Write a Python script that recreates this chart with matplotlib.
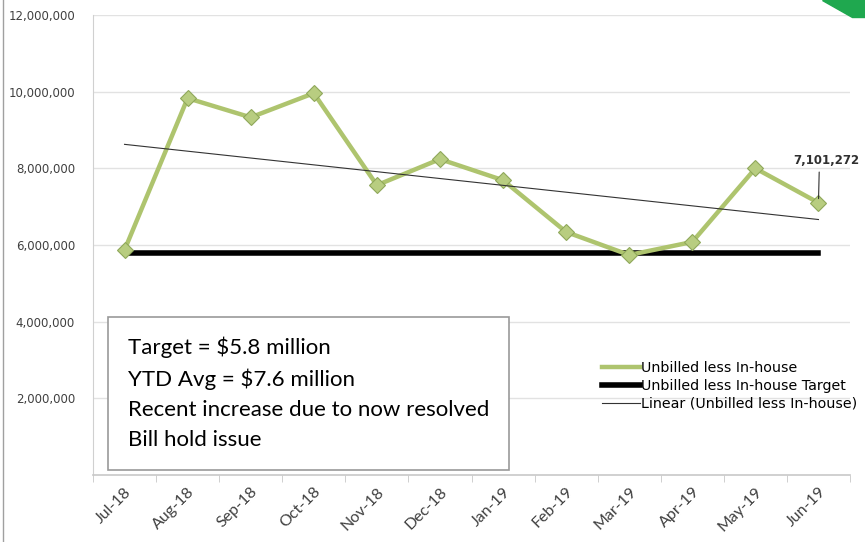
import numpy as np
import matplotlib.pyplot as plt
from matplotlib.patches import Polygon
from matplotlib.lines import Line2D

months = ['Jul-18', 'Aug-18', 'Sep-18', 'Oct-18', 'Nov-18', 'Dec-18',
          'Jan-19', 'Feb-19', 'Mar-19', 'Apr-19', 'May-19', 'Jun-19']
unbilled = [5870000, 9830000, 9330000, 9960000, 7560000, 8240000,
            7690000, 6340000, 5740000, 6080000, 8000000, 7101272]
target = [5800000] * 12
yticks = [2000000, 4000000, 6000000, 8000000, 10000000, 12000000]
note = "Target = $5.8 million\nYTD Avg = $7.6 million\nRecent increase due to now resolved\nBill hold issue"

x = np.arange(len(months))
fit = np.polyfit(x, unbilled, 1)
trend = np.polyval(fit, x)

fig = plt.figure(figsize=(8.65, 5.42), dpi=100)
ax = fig.add_axes([93 / 865, 1 - 475 / 542, (850 - 93) / 865, (475 - 15) / 542])

ax.plot(x, unbilled, color='#aec46e', lw=3.2, marker='D', ms=8,
        mfc='#b8cd80', mec='#8fa85a', mew=0.8, zorder=3,
        label='Unbilled less In-house')
ax.plot(x, target, color='black', lw=4, zorder=2,
        label='Unbilled less In-house Target')
ax.plot(x, trend, color='#333333', lw=0.8, zorder=4,
        label='Linear (Unbilled less In-house)')

ax.set_xlim(-0.5, 11.5)
ax.set_ylim(0, 12000000)
ax.set_yticks(yticks)
ax.set_yticklabels([f'{v:,}' for v in yticks], fontsize=8.5, color='#404040')
ax.set_xticks(x)
ax.set_xticklabels(months, rotation=45, ha='right', rotation_mode='anchor',
                   fontsize=11.5, color='#404040', family='Lato')
ax.tick_params(axis='y', length=0, pad=13)
ax.set_xticks(np.arange(-0.5, 12, 1), minor=True)
ax.tick_params(axis='x', which='major', length=0, pad=7)
ax.tick_params(axis='x', which='minor', length=5, color='#c8c8c8')
ax.grid(axis='y', color='#e2e2e2', lw=1)
for s in ['top', 'right']:
    ax.spines[s].set_visible(False)
ax.spines['left'].set_color('#d0d0d0')
ax.spines['bottom'].set_color('#c8c8c8')
ax.spines['bottom'].set_linewidth(1.2)

ax.annotate(f'{unbilled[-1]:,}', xy=(x[-1], unbilled[-1]),
            xytext=(859, 382), textcoords='figure pixels',
            fontsize=8.5, fontweight='bold',
            color='#303030', ha='right', va='center',
            arrowprops=dict(arrowstyle='-', color='#303030', lw=0.8,
                            relpos=(0.4, 0.0), shrinkB=3))

ax.text(0.055, 3600000, note, fontsize=16, family='Lato', color='black',
        va='top', ha='left', linespacing=1.6,
        bbox=dict(boxstyle='square,pad=0.9', fc='white', ec='#999999', lw=1.2))

handles = [Line2D([], [], color='#aec46e', lw=3.2),
           Line2D([], [], color='black', lw=4),
           Line2D([], [], color='#333333', lw=0.8)]
ax.legend(handles, ['Unbilled less In-house', 'Unbilled less In-house Target',
                    'Linear (Unbilled less In-house)'],
          loc='upper left', bbox_to_anchor=(0.655, 0.275), frameon=False,
          fontsize=10.3, handlelength=2.7, handletextpad=0.05, labelspacing=0.25)

fig.add_artist(Polygon([[0.95, 1.0], [1.0, 1.0], [1.0, 0.968], [0.985, 0.968]],
                       closed=True, transform=fig.transFigure, color='#1fa84f'))
fig.add_artist(Line2D([0.004, 0.004], [0, 1], transform=fig.transFigure,
                      color='#a0a0a0', lw=1))

fig.savefig('out.png', dpi=100)
